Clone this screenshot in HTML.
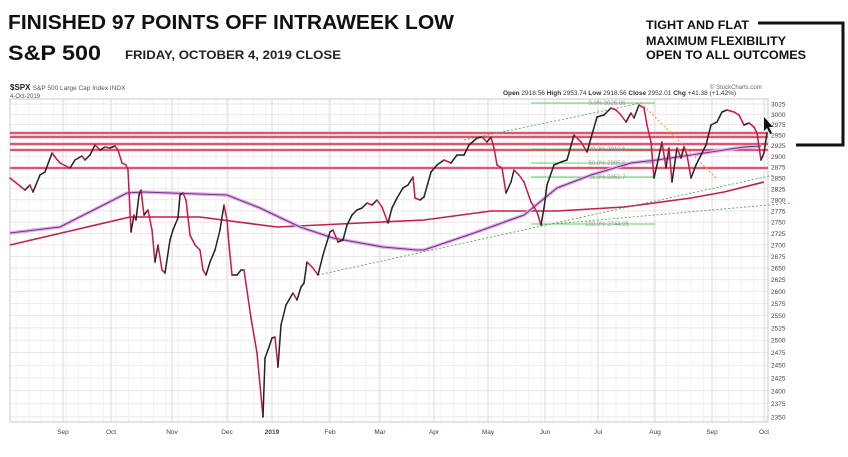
<!DOCTYPE html>
<html><head><meta charset="utf-8"><style>
html,body{margin:0;padding:0;background:#fff;width:848px;height:457px;overflow:hidden}
svg{display:block}
text{font-family:"Liberation Sans",sans-serif}
</style></head><body>
<svg id="s" width="848" height="457" viewBox="0 0 848 457" xmlns="http://www.w3.org/2000/svg">
<text x="8" y="29" font-size="20" font-weight="bold" fill="#111" textLength="446" lengthAdjust="spacingAndGlyphs">FINISHED 97 POINTS OFF INTRAWEEK LOW</text>
<text x="8" y="60" font-size="21" font-weight="bold" fill="#111" textLength="93" lengthAdjust="spacingAndGlyphs">S&amp;P 500</text>
<text x="125" y="59" font-size="11.5" font-weight="bold" fill="#222" textLength="216" lengthAdjust="spacingAndGlyphs">FRIDAY, OCTOBER 4, 2019  CLOSE</text>
<text x="646" y="29" font-size="11.5" font-weight="bold" fill="#111" textLength="103" lengthAdjust="spacingAndGlyphs">TIGHT AND FLAT</text>
<text x="646" y="45" font-size="11.5" font-weight="bold" fill="#111" textLength="140" lengthAdjust="spacingAndGlyphs">MAXIMUM FLEXIBILITY</text>
<text x="646" y="59" font-size="11.5" font-weight="bold" fill="#111" textLength="160" lengthAdjust="spacingAndGlyphs">OPEN TO ALL OUTCOMES</text>
<polyline points="758,23 843,23 843,145 796,145" fill="none" stroke="#111" stroke-width="3"/>
<text x="10" y="90" font-size="8" font-weight="bold" fill="#222">$SPX <tspan font-weight="normal" font-size="6.5" fill="#555">S&amp;P 500 Large Cap Index  INDX</tspan></text>
<text x="10" y="98" font-size="6" fill="#555">4-Oct-2019</text>
<text x="503" y="95" font-size="6.5" fill="#333"><tspan font-weight="bold">Open</tspan> 2918.56 <tspan font-weight="bold">High</tspan> 2953.74 <tspan font-weight="bold">Low</tspan> 2918.56 <tspan font-weight="bold">Close</tspan> 2952.01 <tspan font-weight="bold">Chg</tspan> +41.38 (+1.42%)</text>
<text x="710" y="89" font-size="6" fill="#666">© StockCharts.com</text>
<g id="g"></g>
</svg>
<script>
const g=document.getElementById('g');const NS="http://www.w3.org/2000/svg";
function el(t,a){const e=document.createElementNS(NS,t);for(const k in a)e.setAttribute(k,a[k]);g.appendChild(e);return e;}
const L=10,R=768,T=99,B=422;
const Y=v=>104+1239*(Math.log(3025)-Math.log(v));
for(let v=2350;v<=3025;v+=25){const y=Y(v);if(y<T||y>B)continue;el('line',{x1:L,x2:R,y1:y,y2:y,stroke:'#eadde6','stroke-width':0.7});
 const t=el('text',{x:771,y:y+2.5,'font-size':6.5,fill:'#444'});t.textContent=v;}
const months=[[63,'Sep'],[111,'Oct'],[172,'Nov'],[227,'Dec'],[272,'2019'],[330,'Feb'],[380,'Mar'],[434,'Apr'],[488,'May'],[545,'Jun'],[598,'Jul'],[655,'Aug'],[712,'Sep'],[764,'Oct']];
for(let x=L+6;x<R;x+=12.5)el('line',{x1:x,x2:x,y1:T,y2:B,stroke:'#f0e6ee','stroke-width':0.6});
months.forEach(([x,n])=>{el('line',{x1:x,x2:x,y1:T,y2:B,stroke:'#d8d0d8','stroke-width':0.8});const t=el('text',{x:x,y:434,'font-size':6.5,fill:'#444','text-anchor':'middle','font-weight':n=='2019'?'bold':'normal'});t.textContent=n;});
el('rect',{x:L,y:T,width:R-L,height:B-T,fill:'none',stroke:'#bbb','stroke-width':0.8});
[133,137,144,150,168].forEach(y=>{el('line',{x1:L,x2:R,y1:y,y2:y,stroke:'#f4b8c4','stroke-width':3});el('line',{x1:L,x2:R,y1:y,y2:y,stroke:'#c8203c','stroke-width':1.2});});
[[103,'0.0%  3025.86'],[149,'38.2%  2910.6'],[163,'50.0%  2885.0'],[177,'61.8%  2851.7'],[224,'100.0%  2744.95']].forEach(([y,s])=>{el('line',{x1:531,x2:655,y1:y,y2:y,stroke:'#6c6','stroke-width':0.9});const t=el('text',{x:607,y:y+2,'font-size':6,fill:'#999','text-anchor':'middle'});t.textContent=s;});
const P=a=>a.map(p=>p.join(',')).join(' ');
el('polyline',{points:P([[10,245],[130,217],[200,217],[277,227],[424,220],[491,211],[557,211],[624,207],[691,198],[724,192],[764,182]]),fill:'none',stroke:'#c0204a','stroke-width':1.6});
const ma=[[10,233],[60,227],[127,193],[143,192],[227,195],[260,208],[300,227],[333,238],[383,247],[417,250],[424,250],[474,233],[524,215],[557,188],[591,175],[631,163],[657,160],[691,155],[724,150],[744,147],[761,146]];
el('polyline',{points:P(ma),fill:'none',stroke:'#dcb4e0','stroke-width':3.5});
el('polyline',{points:P(ma),fill:'none',stroke:'#7a2d8f','stroke-width':1.1});
el('line',{x1:318,y1:275,x2:774,y2:175,stroke:'#5a5','stroke-width':0.9,'stroke-dasharray':'2,2'});
el('line',{x1:541,y1:225,x2:791,y2:203,stroke:'#5a5','stroke-width':0.9,'stroke-dasharray':'2,2'});
el('line',{x1:464,y1:140,x2:641,y2:103,stroke:'#5a5','stroke-width':0.9,'stroke-dasharray':'2,2'});
el('line',{x1:641,y1:103,x2:716,y2:178,stroke:'#f0a040','stroke-width':1.2,'stroke-dasharray':'2,2'});
const pr=[[10,178],[25,190],[30,185],[33,192],[40,175],[45,172],[52,153],[55,157],[60,163],[70,168],[75,160],[82,156],[85,160],[90,155],[95,145],[100,150],[105,147],[110,148],[115,146],[118,150],[122,163],[126,165],[128,170],[131,232],[134,215],[136,220],[139,195],[141,190],[144,215],[148,210],[152,230],[155,262],[158,245],[162,270],[165,273],[170,240],[173,230],[175,225],[178,218],[180,195],[183,193],[186,200],[190,235],[195,245],[200,250],[203,270],[206,275],[210,262],[215,250],[220,230],[224,205],[227,220],[229,245],[232,275],[237,275],[241,270],[244,270],[251,318],[257,353],[263,417],[265,358],[269,347],[272,338],[275,337],[278,367],[281,325],[286,305],[293,293],[297,300],[301,287],[304,283],[307,262],[313,268],[318,275],[323,255],[330,232],[333,230],[338,242],[343,240],[347,225],[352,215],[357,210],[362,208],[367,203],[372,205],[377,200],[382,207],[388,223],[392,208],[397,198],[403,188],[408,185],[413,177],[415,198],[420,200],[424,197],[431,172],[437,165],[444,160],[451,163],[457,155],[464,155],[469,145],[477,138],[482,137],[487,142],[491,137],[494,148],[497,165],[502,168],[506,193],[511,182],[514,170],[519,175],[524,182],[531,202],[537,212],[541,225],[544,208],[547,185],[554,165],[561,162],[567,160],[574,135],[581,142],[587,152],[591,138],[597,117],[604,115],[611,108],[616,110],[621,115],[626,122],[631,113],[634,118],[639,105],[644,108],[647,125],[651,142],[654,178],[657,165],[662,142],[666,168],[669,148],[672,182],[677,148],[681,158],[684,147],[687,155],[691,178],[696,165],[701,155],[706,145],[711,125],[717,122],[722,112],[727,110],[734,112],[739,115],[744,125],[749,123],[754,127],[757,133],[761,160],[764,153],[767,133]];
for(let i=1;i<pr.length;i++){const [a,b]=[pr[i-1],pr[i]];el('line',{x1:a[0],y1:a[1],x2:b[0],y2:b[1],stroke:b[1]>a[1]?'#c8184a':'#222','stroke-width':1.5,'stroke-linecap':'round'});}
el('polygon',{points:'764,117 764,131 767,128 770,134 772,133 769,127 773,127',fill:'#111'});
</script>
</body></html>
